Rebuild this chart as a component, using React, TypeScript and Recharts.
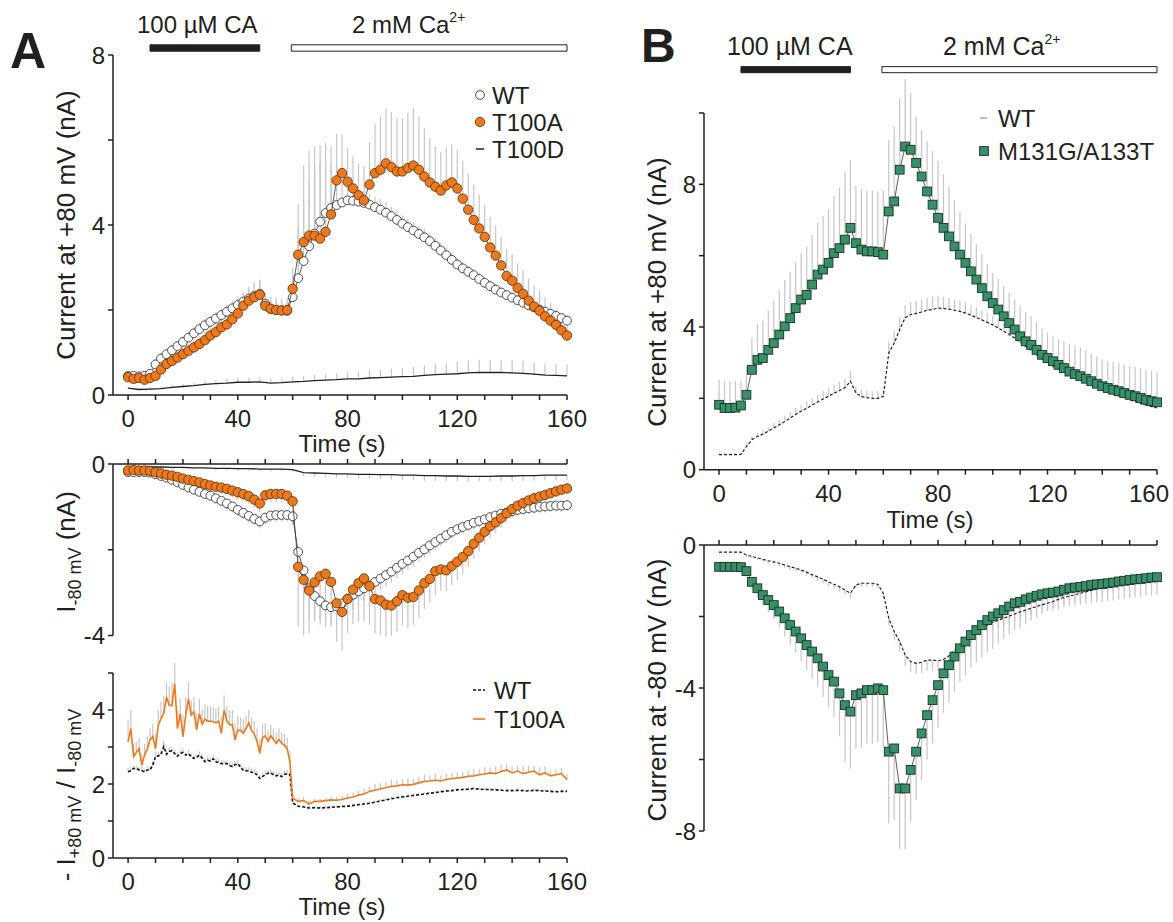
import React from 'react';
import { ComposedChart, Scatter, Line, XAxis, YAxis, ErrorBar, ReferenceArea } from 'recharts';

const FONT = '"Liberation Sans", Arial, Helvetica, sans-serif';
const INK = '#231f20';
const ERR = '#c6c6c6';
const ORANGE = '#ec7a1c';
const GREEN = '#37906a';

// sampling times (s)
const T2 = [
  0, 2, 4, 6, 8, 10, 12, 14, 16, 18,
  20, 22, 24, 26, 28, 30, 32, 34, 36, 38,
  40, 42, 44, 46, 48, 50, 52, 54, 56, 58,
  60, 62, 64, 66, 68, 70, 72, 74, 76, 78,
  80, 82, 84, 86, 88, 90, 92, 94, 96, 98,
  100, 102, 104, 106, 108, 110, 112, 114, 116, 118,
  120, 122, 124, 126, 128, 130, 132, 134, 136, 138,
  140, 142, 144, 146, 148, 150, 152, 154, 156, 158,
  160,
];
const T4 = [
  0, 4, 8, 12, 16, 20, 24, 28, 32, 36,
  40, 44, 48, 52, 56, 60, 64, 68, 72, 76,
  80, 84, 88, 92, 96, 100, 104, 108, 112, 116,
  120, 124, 128, 132, 136, 140, 144, 148, 152, 156,
  160,
];
const T_RATIO = [
  0, 1, 2, 3, 4, 5, 6, 7, 8, 9,
  10, 11, 12, 13, 14, 15, 16, 17, 18, 19,
  20, 21, 22, 23, 24, 25, 26, 27, 28, 29,
  30, 31, 32, 33, 34, 35, 36, 37, 38, 39,
  40, 41, 42, 43, 44, 45, 46, 47, 48, 49,
  50, 51, 52, 53, 54, 55, 56, 57, 58, 59,
  60, 62, 64, 66, 68, 70, 72, 74, 76, 78,
  80, 82, 84, 86, 88, 90, 92, 94, 96, 98,
  100, 102, 104, 106, 108, 110, 112, 114, 116, 118,
  120, 122, 124, 126, 128, 130, 132, 134, 136, 138,
  140, 142, 144, 146, 148, 150, 152, 154, 156, 158,
  160,
];

// application windows (s)
const CA_WINDOW = [8, 48];
const CALCIUM_WINDOW = [59.5, 160];

const X_TICKS = [0, 10, 20, 30, 40, 50, 60, 70, 80, 90, 100, 110, 120, 130, 140, 150, 160];

// ---- panel A, current at +80 mV (nA) ----
const aWtPos = [
  0.45, 0.45, 0.44, 0.45, 0.5, 0.72, 0.86, 0.96, 1.05, 1.15,
  1.25, 1.35, 1.45, 1.55, 1.64, 1.72, 1.8, 1.88, 1.96, 2.04,
  2.12, 2.2, 2.27, 2.33, 2.38, 2.15, 2.02, 2.0, 1.99, 1.98,
  2.3, 2.75, 3.15, 3.5, 3.8, 4.08, 4.28, 4.4, 4.47, 4.53,
  4.58, 4.57, 4.55, 4.52, 4.48, 4.42, 4.36, 4.29, 4.21, 4.12,
  4.03, 3.95, 3.87, 3.79, 3.71, 3.62, 3.51, 3.4, 3.29, 3.18,
  3.07, 2.98, 2.9, 2.82, 2.73, 2.64, 2.56, 2.48, 2.41, 2.35,
  2.29, 2.23, 2.17, 2.11, 2.06, 2.01, 1.96, 1.91, 1.86, 1.81,
  1.75,
];
const aWtPosErr = [
  0.08, 0.08, 0.08, 0.08, 0.1, 0.12, 0.12, 0.12, 0.12, 0.12,
  0.12, 0.14, 0.14, 0.15, 0.15, 0.15, 0.16, 0.16, 0.17, 0.18,
  0.2, 0.22, 0.22, 0.25, 0.3, 0.25, 0.2, 0.2, 0.2, 0.2,
  0.4, 1.2, 1.4, 1.5, 1.5, 1.4, 1.2, 1.0, 0.7, 0.5,
  0.35, 0.3, 0.28, 0.28, 0.25, 0.25, 0.25, 0.25, 0.22, 0.22,
  0.2, 0.2, 0.2, 0.2, 0.2, 0.18, 0.18, 0.18, 0.18, 0.16,
  0.16, 0.16, 0.15, 0.15, 0.15, 0.14, 0.14, 0.14, 0.14, 0.13,
  0.13, 0.13, 0.12, 0.12, 0.12, 0.12, 0.12, 0.12, 0.12, 0.12,
  0.12,
];
const aT100aPos = [
  0.42, 0.38, 0.4, 0.36, 0.4, 0.45, 0.6, 0.73, 0.8, 0.88,
  0.96, 1.04, 1.12, 1.2, 1.29, 1.4, 1.48, 1.59, 1.66, 1.78,
  1.92, 2.1, 2.22, 2.3, 2.36, 2.1, 2.03, 2.0, 1.99, 2.0,
  2.5, 3.3, 3.6, 3.75, 3.75, 3.68, 3.84, 4.25, 5.05, 5.22,
  5.02, 4.86, 4.7, 4.58, 4.95, 5.22, 5.3, 5.45, 5.36, 5.26,
  5.26, 5.34, 5.4, 5.3, 5.14, 5.0, 4.9, 4.81, 4.93, 5.0,
  4.86, 4.62, 4.36, 4.12, 3.92, 3.72, 3.47, 3.28, 3.05, 2.8,
  2.69, 2.52, 2.38, 2.22, 2.08, 1.98, 1.85, 1.75, 1.65, 1.52,
  1.4,
];
const aT100aPosErr = [
  0.1, 0.1, 0.1, 0.1, 0.1, 0.12, 0.15, 0.15, 0.15, 0.15,
  0.16, 0.16, 0.18, 0.18, 0.2, 0.2, 0.22, 0.22, 0.25, 0.25,
  0.28, 0.3, 0.32, 0.35, 0.35, 0.3, 0.28, 0.28, 0.28, 0.28,
  0.5, 1.2, 1.8, 2.0, 2.1, 2.2, 2.1, 1.6, 1.1, 0.9,
  0.8, 0.75, 0.75, 0.8, 1.0, 1.15, 1.25, 1.3, 1.3, 1.25,
  1.25, 1.3, 1.35, 1.25, 1.15, 1.05, 0.95, 0.9, 0.9, 0.9,
  0.9, 0.88, 0.85, 0.82, 0.8, 0.75, 0.72, 0.7, 0.68, 0.65,
  0.62, 0.58, 0.55, 0.52, 0.5, 0.48, 0.45, 0.42, 0.38, 0.35,
  0.32,
];
const aT100dPos = [
  0.16, 0.13, 0.14, 0.15, 0.18, 0.2, 0.22, 0.25, 0.27, 0.28,
  0.3, 0.3, 0.31, 0.28, 0.29, 0.31, 0.32, 0.34, 0.35, 0.36,
  0.38, 0.38, 0.4, 0.41, 0.42, 0.43, 0.44, 0.46, 0.48, 0.49,
  0.5, 0.52, 0.53, 0.53, 0.53, 0.52, 0.51, 0.49, 0.47, 0.46,
  0.45,
];
const aT100dPosErr = [
  0.04, 0.04, 0.05, 0.05, 0.06, 0.06, 0.07, 0.08, 0.08, 0.1,
  0.1, 0.1, 0.1, 0.1, 0.1, 0.12, 0.12, 0.13, 0.14, 0.15,
  0.16, 0.17, 0.18, 0.19, 0.2, 0.21, 0.22, 0.24, 0.25, 0.26,
  0.28, 0.3, 0.3, 0.3, 0.3, 0.3, 0.3, 0.28, 0.28, 0.27,
  0.27,
];

// ---- panel A, current at -80 mV (nA) ----
const aWtNeg = [
  -0.19, -0.19, -0.19, -0.19, -0.2, -0.24, -0.28, -0.32, -0.37, -0.43,
  -0.49, -0.55, -0.6, -0.65, -0.7, -0.74, -0.8, -0.86, -0.92, -0.99,
  -1.07, -1.14, -1.21, -1.28, -1.34, -1.25, -1.2, -1.19, -1.19, -1.19,
  -1.22, -2.05, -2.48, -2.9, -3.08, -3.2, -3.3, -3.34, -3.32, -3.25,
  -3.14, -3.05, -2.97, -2.9, -2.83, -2.75, -2.67, -2.59, -2.51, -2.42,
  -2.33, -2.25, -2.16, -2.07, -1.99, -1.9, -1.82, -1.74, -1.66, -1.58,
  -1.52, -1.47, -1.42, -1.37, -1.33, -1.29, -1.24, -1.2, -1.16, -1.13,
  -1.1, -1.07, -1.05, -1.03, -1.02, -1.0, -0.99, -0.98, -0.97, -0.97,
  -0.96,
];
const aWtNegErr = [
  0.05, 0.05, 0.05, 0.05, 0.05, 0.06, 0.06, 0.07, 0.08, 0.08,
  0.09, 0.1, 0.1, 0.1, 0.11, 0.11, 0.12, 0.12, 0.13, 0.13,
  0.14, 0.14, 0.15, 0.15, 0.16, 0.15, 0.15, 0.15, 0.15, 0.15,
  0.2, 0.6, 0.7, 0.7, 0.6, 0.55, 0.5, 0.45, 0.4, 0.4,
  0.35, 0.35, 0.3, 0.3, 0.3, 0.28, 0.28, 0.26, 0.26, 0.25,
  0.24, 0.23, 0.22, 0.21, 0.2, 0.2, 0.19, 0.18, 0.17, 0.16,
  0.15, 0.15, 0.15, 0.15, 0.15, 0.15, 0.15, 0.15, 0.15, 0.15,
  0.14, 0.14, 0.14, 0.14, 0.14, 0.14, 0.14, 0.14, 0.14, 0.14,
  0.13,
];
const aT100aNeg = [
  -0.15, -0.14, -0.15, -0.15, -0.16, -0.19, -0.22, -0.25, -0.27, -0.3,
  -0.34, -0.37, -0.4, -0.43, -0.47, -0.5, -0.53, -0.55, -0.58, -0.62,
  -0.66, -0.7, -0.75, -0.83, -0.92, -0.73, -0.7, -0.7, -0.7, -0.74,
  -0.87, -2.4, -2.7, -2.95, -2.76, -2.62, -2.56, -2.75, -3.25, -3.45,
  -3.15, -2.93, -2.78, -2.67, -2.85, -3.15, -3.18, -3.28, -3.3, -3.2,
  -3.06, -3.12, -3.1, -2.95, -2.78, -2.68, -2.5, -2.46, -2.48, -2.38,
  -2.28, -2.17, -2.03, -1.86, -1.72, -1.58, -1.45, -1.36, -1.26, -1.15,
  -1.05, -0.97, -0.91, -0.85, -0.8, -0.76, -0.72, -0.68, -0.64, -0.6,
  -0.57,
];
const aT100aNegErr = [
  0.05, 0.05, 0.05, 0.05, 0.05, 0.06, 0.06, 0.07, 0.08, 0.08,
  0.09, 0.1, 0.1, 0.1, 0.11, 0.12, 0.12, 0.13, 0.14, 0.15,
  0.16, 0.17, 0.18, 0.2, 0.2, 0.2, 0.2, 0.2, 0.2, 0.2,
  0.3, 1.4, 1.3, 1.0, 0.9, 1.0, 1.1, 1.0, 0.9, 0.9,
  0.8, 0.8, 0.9, 1.0, 0.9, 0.8, 0.8, 0.75, 0.7, 0.7,
  0.7, 0.7, 0.65, 0.65, 0.6, 0.55, 0.55, 0.5, 0.48, 0.45,
  0.42, 0.4, 0.38, 0.35, 0.32, 0.3, 0.28, 0.26, 0.24, 0.22,
  0.2, 0.2, 0.18, 0.18, 0.16, 0.15, 0.14, 0.13, 0.12, 0.12,
  0.12,
];
const aT100dNeg = [
  -0.06, -0.06, -0.07, -0.07, -0.08, -0.08, -0.09, -0.09, -0.1, -0.1,
  -0.11, -0.11, -0.12, -0.12, -0.12, -0.13, -0.2, -0.21, -0.22, -0.23,
  -0.23, -0.24, -0.24, -0.25, -0.25, -0.26, -0.26, -0.27, -0.27, -0.28,
  -0.28, -0.29, -0.29, -0.29, -0.28, -0.28, -0.27, -0.27, -0.26, -0.26,
  -0.26,
];
const aT100dNegErr = [
  0.03, 0.03, 0.03, 0.03, 0.04, 0.04, 0.04, 0.04, 0.05, 0.05,
  0.05, 0.05, 0.05, 0.05, 0.05, 0.05, 0.08, 0.08, 0.09, 0.09,
  0.1, 0.1, 0.1, 0.1, 0.11, 0.11, 0.11, 0.12, 0.12, 0.12,
  0.12, 0.12, 0.12, 0.12, 0.12, 0.12, 0.12, 0.12, 0.12, 0.12,
  0.12,
];

// ---- panel A, -I(+80 mV) / I(-80 mV) ----
const aT100aRatio = [
  3.14, 3.5, 2.74, 2.85, 2.95, 2.51, 2.78, 2.95, 3.19, 3.28,
  2.95, 3.59, 3.77, 3.9, 4.35, 4.13, 4.12, 4.71, 3.5, 3.9,
  3.28, 3.85, 4.31, 3.86, 3.95, 3.46, 3.9, 3.62, 3.75, 3.7,
  3.7, 3.68, 3.65, 3.7, 3.37, 4.0, 3.7, 3.6, 3.6, 3.19,
  3.45, 3.45, 3.37, 3.5, 3.65, 3.45, 3.35, 3.15, 2.83, 3.25,
  3.3, 3.15, 3.3, 3.2, 3.1, 3.2, 3.1, 3.05, 2.95, 2.59,
  1.62, 1.53, 1.55, 1.46, 1.53, 1.53, 1.55, 1.57, 1.56, 1.58,
  1.62, 1.65, 1.7, 1.73, 1.8, 1.83, 1.87, 1.9, 1.94, 1.95,
  1.98, 1.97, 1.99, 2.03, 2.07, 2.08, 2.1, 2.08, 2.12, 2.14,
  2.16, 2.18, 2.21, 2.22, 2.25, 2.27, 2.3, 2.28, 2.34, 2.38,
  2.3, 2.35, 2.28, 2.32, 2.35, 2.25, 2.3, 2.22, 2.25, 2.28,
  2.12,
];
const aT100aRatioErr = [
  0.6, 0.5, 0.35, 0.3, 0.3, 0.3, 0.3, 0.35, 0.3, 0.35,
  0.4, 0.4, 0.45, 0.5, 0.4, 0.5, 0.6, 0.9, 0.5, 0.4,
  0.6, 0.5, 0.45, 0.4, 0.4, 0.45, 0.4, 0.4, 0.4, 0.4,
  0.4, 0.4, 0.4, 0.4, 0.45, 0.4, 0.4, 0.4, 0.4, 0.45,
  0.4, 0.35, 0.4, 0.35, 0.35, 0.35, 0.35, 0.35, 0.4, 0.35,
  0.35, 0.3, 0.3, 0.3, 0.3, 0.3, 0.3, 0.3, 0.3, 0.3,
  0.1, 0.1, 0.1, 0.08, 0.08, 0.08, 0.08, 0.1, 0.1, 0.1,
  0.12, 0.12, 0.12, 0.15, 0.15, 0.18, 0.15, 0.15, 0.18, 0.15,
  0.15, 0.18, 0.15, 0.15, 0.18, 0.15, 0.18, 0.15, 0.15, 0.15,
  0.15, 0.15, 0.15, 0.18, 0.15, 0.18, 0.15, 0.2, 0.18, 0.15,
  0.18, 0.15, 0.2, 0.18, 0.15, 0.2, 0.18, 0.15, 0.15, 0.15,
  0.15,
];
const aWtRatio = [
  2.33, 2.36, 2.42, 2.42, 2.38, 2.36, 2.33, 2.38, 2.38, 2.51,
  2.74, 2.76, 2.8, 3.01, 2.8, 2.88, 2.9, 2.82, 2.75, 2.82,
  2.85, 2.78, 2.82, 2.74, 2.69, 2.72, 2.78, 2.7, 2.6, 2.64,
  2.62, 2.68, 2.6, 2.58, 2.55, 2.55, 2.55, 2.5, 2.47, 2.52,
  2.55, 2.45, 2.37, 2.36, 2.35, 2.32, 2.3, 2.25, 2.15, 2.2,
  2.25, 2.29, 2.3, 2.25, 2.22, 2.24, 2.2, 2.26, 2.28, 2.25,
  1.49, 1.4, 1.38, 1.35, 1.36, 1.35, 1.36, 1.37, 1.38, 1.39,
  1.4, 1.42, 1.44, 1.46, 1.48, 1.51, 1.54, 1.57, 1.6, 1.63,
  1.65, 1.67, 1.69, 1.71, 1.73, 1.75, 1.77, 1.79, 1.81, 1.82,
  1.84, 1.85, 1.86, 1.88, 1.86, 1.85, 1.85, 1.84, 1.83, 1.82,
  1.82, 1.83, 1.82, 1.81, 1.83, 1.82, 1.81, 1.8, 1.79, 1.8,
  1.8,
];
const aWtRatioErr = [
  0.1, 0.1, 0.08, 0.08, 0.1, 0.1, 0.08, 0.1, 0.1, 0.12,
  0.12, 0.1, 0.12, 0.15, 0.12, 0.12, 0.1, 0.12, 0.1, 0.1,
  0.1, 0.1, 0.1, 0.1, 0.1, 0.1, 0.1, 0.1, 0.1, 0.1,
  0.1, 0.1, 0.1, 0.1, 0.1, 0.1, 0.1, 0.1, 0.1, 0.1,
  0.1, 0.1, 0.1, 0.1, 0.1, 0.1, 0.1, 0.1, 0.1, 0.1,
  0.1, 0.1, 0.1, 0.1, 0.1, 0.1, 0.1, 0.1, 0.1, 0.1,
  0.05, 0.05, 0.05, 0.05, 0.05, 0.05, 0.05, 0.05, 0.05, 0.05,
  0.05, 0.05, 0.05, 0.05, 0.05, 0.05, 0.05, 0.05, 0.05, 0.05,
  0.05, 0.05, 0.05, 0.05, 0.05, 0.05, 0.05, 0.05, 0.05, 0.05,
  0.05, 0.05, 0.05, 0.05, 0.05, 0.05, 0.05, 0.05, 0.05, 0.05,
  0.05, 0.05, 0.05, 0.05, 0.05, 0.05, 0.05, 0.05, 0.05, 0.05,
  0.05,
];

// ---- panel B, current at +80 mV (nA) ----
const bMutPos = [
  1.82, 1.73, 1.73, 1.74, 1.8, 2.1, 2.8, 3.08, 3.13, 3.36,
  3.55, 3.79, 4.02, 4.25, 4.53, 4.77, 4.9, 5.19, 5.47, 5.61,
  5.8, 6.07, 6.21, 6.45, 6.78, 6.35, 6.17, 6.12, 6.12, 6.1,
  6.03, 7.24, 7.52, 8.41, 9.06, 8.97, 8.6, 8.22, 7.8, 7.43,
  7.06, 6.78, 6.54, 6.26, 6.03, 5.8, 5.56, 5.33, 5.09, 4.86,
  4.67, 4.49, 4.3, 4.11, 3.93, 3.74, 3.6, 3.5, 3.36, 3.22,
  3.13, 3.04, 2.94, 2.85, 2.75, 2.68, 2.62, 2.55, 2.48, 2.41,
  2.34, 2.29, 2.24, 2.2, 2.15, 2.1, 2.06, 2.01, 1.96, 1.92,
  1.89,
];
const bMutPosErr = [
  0.7, 0.75, 0.75, 0.75, 0.7, 0.8, 0.9, 1.0, 1.05, 1.1,
  1.2, 1.25, 1.3, 1.3, 1.3, 1.3, 1.35, 1.4, 1.45, 1.5,
  1.5, 1.6, 1.7, 1.9, 1.9, 1.6, 1.7, 1.7, 1.7, 1.7,
  1.8, 2.0, 2.1, 2.0, 1.9, 1.6, 1.3, 1.3, 1.4, 1.5,
  1.6, 1.5, 1.4, 1.3, 1.2, 1.1, 1.05, 1.0, 0.95, 0.9,
  0.85, 0.85, 0.85, 0.85, 0.84, 0.84, 0.82, 0.8, 0.78, 0.75,
  0.7, 0.7, 0.72, 0.75, 0.78, 0.8, 0.8, 0.8, 0.78, 0.76,
  0.75, 0.76, 0.78, 0.8, 0.8, 0.8, 0.82, 0.84, 0.85, 0.85,
  0.85,
];
const bWtPos = [
  0.42, 0.42, 0.42, 0.42, 0.43, 0.65, 0.84, 0.93, 1.0, 1.08,
  1.17, 1.26, 1.35, 1.45, 1.55, 1.64, 1.72, 1.81, 1.9, 1.98,
  2.06, 2.14, 2.22, 2.3, 2.48, 2.15, 2.05, 2.02, 2.0, 2.0,
  2.05, 3.27, 3.55, 3.93, 4.26, 4.35, 4.38, 4.42, 4.47, 4.49,
  4.53, 4.52, 4.5, 4.47, 4.44, 4.39, 4.33, 4.27, 4.2, 4.13,
  4.06, 3.97, 3.88, 3.79, 3.69, 3.58, 3.46, 3.34, 3.22, 3.1,
  2.98, 2.9, 2.82, 2.74, 2.66, 2.59, 2.52, 2.45, 2.38, 2.31,
  2.25, 2.19, 2.13, 2.07, 2.02, 1.96, 1.91, 1.86, 1.81, 1.77,
  1.73,
];
const bWtPosErr = [
  0.05, 0.05, 0.05, 0.05, 0.05, 0.08, 0.1, 0.1, 0.12, 0.12,
  0.14, 0.15, 0.16, 0.17, 0.18, 0.18, 0.2, 0.2, 0.2, 0.22,
  0.22, 0.24, 0.25, 0.26, 0.3, 0.2, 0.2, 0.2, 0.2, 0.2,
  0.2, 0.3, 0.35, 0.35, 0.35, 0.35, 0.35, 0.35, 0.35, 0.35,
  0.35, 0.33, 0.32, 0.3, 0.3, 0.3, 0.28, 0.28, 0.27, 0.26,
  0.25, 0.25, 0.24, 0.23, 0.22, 0.2, 0.2, 0.18, 0.18, 0.16,
  0.15, 0.15, 0.15, 0.15, 0.15, 0.15, 0.15, 0.15, 0.15, 0.15,
  0.12, 0.12, 0.12, 0.12, 0.12, 0.12, 0.12, 0.12, 0.12, 0.12,
  0.1,
];

// ---- panel B, current at -80 mV (nA) ----
const bMutNeg = [
  -0.61, -0.61, -0.61, -0.61, -0.62, -0.73, -1.03, -1.21, -1.4, -1.54,
  -1.68, -1.86, -2.05, -2.24, -2.42, -2.61, -2.8, -2.98, -3.17, -3.4,
  -3.64, -3.82, -4.15, -4.48, -4.66, -4.2, -4.15, -4.06, -4.06, -4.01,
  -4.06, -5.78, -5.69, -6.81, -6.81, -6.29, -5.78, -5.27, -4.76, -4.34,
  -3.92, -3.59, -3.36, -3.12, -2.89, -2.7, -2.52, -2.38, -2.24, -2.1,
  -2.0, -1.91, -1.82, -1.72, -1.63, -1.59, -1.52, -1.47, -1.42, -1.38,
  -1.35, -1.33, -1.3, -1.25, -1.21, -1.19, -1.17, -1.15, -1.12, -1.1,
  -1.09, -1.07, -1.05, -1.02, -1.0, -0.98, -0.96, -0.95, -0.93, -0.91,
  -0.9,
];
const bMutNegErr = [
  0.08, 0.08, 0.08, 0.08, 0.1, 0.15, 0.2, 0.25, 0.3, 0.35,
  0.4, 0.45, 0.5, 0.55, 0.6, 0.65, 0.7, 0.75, 0.8, 0.85,
  0.9, 1.0, 1.2, 1.6, 1.6, 1.5, 1.5, 1.5, 1.5, 1.5,
  1.6, 2.0, 2.0, 1.7, 1.7, 1.45, 1.35, 1.3, 1.25, 1.2,
  1.2, 1.1, 1.05, 1.0, 0.95, 0.95, 0.9, 0.9, 0.9, 0.9,
  0.9, 0.85, 0.8, 0.78, 0.75, 0.75, 0.7, 0.65, 0.6, 0.55,
  0.5, 0.5, 0.5, 0.5, 0.5, 0.5, 0.5, 0.5, 0.5, 0.5,
  0.5, 0.5, 0.5, 0.5, 0.5, 0.5, 0.5, 0.5, 0.5, 0.5,
  0.5,
];
const bWtNeg = [
  -0.2, -0.2, -0.2, -0.2, -0.2, -0.28, -0.32, -0.36, -0.4, -0.44,
  -0.47, -0.51, -0.56, -0.61, -0.65, -0.7, -0.76, -0.83, -0.89, -0.96,
  -1.03, -1.1, -1.17, -1.26, -1.35, -1.12, -1.07, -1.07, -1.07, -1.1,
  -1.35, -2.05, -2.42, -2.7, -3.08, -3.26, -3.31, -3.28, -3.22, -3.22,
  -3.24, -3.2, -3.1, -2.95, -2.8, -2.66, -2.52, -2.42, -2.33, -2.24,
  -2.16, -2.1, -2.05, -1.99, -1.93, -1.87, -1.82, -1.77, -1.72, -1.67,
  -1.63, -1.58, -1.52, -1.47, -1.43, -1.39, -1.35, -1.31, -1.27, -1.23,
  -1.2, -1.17, -1.13, -1.1, -1.07, -1.04, -1.02, -0.99, -0.97, -0.95,
  -0.93,
];
const bWtNegErr = [
  0.03, 0.03, 0.03, 0.03, 0.03, 0.05, 0.05, 0.06, 0.06, 0.07,
  0.07, 0.08, 0.08, 0.09, 0.09, 0.1, 0.1, 0.1, 0.11, 0.11,
  0.12, 0.12, 0.13, 0.13, 0.14, 0.1, 0.1, 0.1, 0.1, 0.1,
  0.15, 0.2, 0.25, 0.3, 0.3, 0.3, 0.3, 0.3, 0.3, 0.3,
  0.28, 0.28, 0.26, 0.26, 0.25, 0.25, 0.24, 0.24, 0.23, 0.22,
  0.22, 0.2, 0.2, 0.2, 0.2, 0.2, 0.2, 0.2, 0.2, 0.2,
  0.2, 0.2, 0.2, 0.2, 0.2, 0.2, 0.2, 0.2, 0.2, 0.2,
  0.15, 0.15, 0.15, 0.15, 0.15, 0.15, 0.15, 0.15, 0.15, 0.15,
  0.15,
];

type Pt = { t: number; v: number; e: number };
const toPts = (time: number[], vals: number[], errs: number[]): Pt[] =>
  time.map((t, i) => ({ t, v: vals[i], e: errs[i] }));

const errUp = (d: any) => [0, d.e ?? d.payload?.e ?? 0];
const errDown = (d: any) => [d.e ?? d.payload?.e ?? 0, 0];

// gray one-sided error bars, drawn behind everything
const errLayer = (data: Pt[], up: boolean, key: string) => (
  <Scatter key={key} data={data} dataKey="v" shape={() => <g />} isAnimationActive={false}>
    <ErrorBar dataKey={up ? errUp : errDown} direction="y" width={0} stroke={ERR} strokeWidth={1.2} />
  </Scatter>
);

const openCircle = (p: any) => <circle cx={p.cx} cy={p.cy} r={4.4} fill="#fff" stroke="#3a3a3a" strokeWidth={0.9} />;
const orangeCircle = (p: any) => <circle cx={p.cx} cy={p.cy} r={4.7} fill={ORANGE} stroke="#5a2c08" strokeWidth={0.8} />;
const greenSquare = (p: any) => (
  <rect x={p.cx - 4.4} y={p.cy - 4.4} width={8.8} height={8.8} fill={GREEN} stroke="#1b3226" strokeWidth={0.9} />
);

const Y_AXIS_W = 60;
const tickStyle = { fontSize: 24, fill: INK, fontFamily: FONT };

type PanelSpec = {
  plotLeft: number;
  plotTop: number;
  plotW: number;
  plotH: number;
  padTop: number;
  xOnTop: boolean;
  lastTickShift: number;
  yDomain: [number, number];
  yTicks: number[];
  yLabelled: number[];
};

// x tick labels only every 40 s; the last one may be nudged to stay on the page
const makeXTick = (spec: PanelSpec) => (props: any) => {
  const { x, y, payload } = props;
  const v = payload.value;
  if (spec.xOnTop || v % 40 !== 0) return <g />;
  return (
    <text x={x + (v === 160 ? spec.lastTickShift : 0)} y={y} dy="0.71em" textAnchor="middle" fontSize={24} fill={INK} fontFamily={FONT}>
      {v}
    </text>
  );
};

function Panel({ spec, children }: { spec: PanelSpec; children: React.ReactNode }) {
  const xH = spec.xOnTop ? 8 : 45;
  const width = Y_AXIS_W + spec.plotW + 30;
  const height = spec.padTop + spec.plotH + (spec.xOnTop ? 20 : xH);
  const margin = spec.xOnTop
    ? { top: spec.padTop - xH, right: 30, bottom: 20, left: 0 }
    : { top: spec.padTop, right: 30, bottom: 0, left: 0 };
  return (
    <div style={{ position: 'absolute', left: spec.plotLeft - Y_AXIS_W, top: spec.plotTop - spec.padTop, width, height }}>
      <ComposedChart width={width} height={height} margin={margin}>
        <XAxis
          type="number"
          dataKey="t"
          domain={[-5.5, 160]}
          ticks={X_TICKS}
          interval={0}
          orientation={spec.xOnTop ? 'top' : 'bottom'}
          height={xH}
          stroke={INK}
          strokeWidth={1.5}
          tickSize={5}
          tickMargin={10}
          tick={makeXTick(spec)}
        />
        <YAxis
          type="number"
          dataKey="v"
          domain={spec.yDomain}
          ticks={spec.yTicks}
          allowDataOverflow
          interval={0}
          width={Y_AXIS_W}
          stroke={INK}
          strokeWidth={1.5}
          tickSize={5}
          tickMargin={3}
          tick={tickStyle}
          tickFormatter={(v: number) => (spec.yLabelled.includes(v) ? String(v) : '')}
        />
        {children}
      </ComposedChart>
    </div>
  );
}

const A_TOP: PanelSpec = { plotLeft: 113, plotTop: 55, plotW: 454, plotH: 340, padTop: 15, xOnTop: false, lastTickShift: 0, yDomain: [0, 8], yTicks: [0, 2, 4, 6, 8], yLabelled: [0, 4, 8] };
const A_MID: PanelSpec = { plotLeft: 113, plotTop: 463.5, plotW: 454, plotH: 171.5, padTop: 15, xOnTop: true, lastTickShift: 0, yDomain: [-4, 0], yTicks: [-4, -2, 0], yLabelled: [-4, 0] };
const A_BOT: PanelSpec = { plotLeft: 113, plotTop: 673.3, plotW: 454, plotH: 185, padTop: 10, xOnTop: false, lastTickShift: 0, yDomain: [0, 5], yTicks: [0, 1, 2, 3, 4, 5], yLabelled: [0, 2, 4] };
const B_TOP: PanelSpec = { plotLeft: 704, plotTop: 113.3, plotW: 453, plotH: 356.7, padTop: 50, xOnTop: false, lastTickShift: -8, yDomain: [0, 10], yTicks: [0, 2, 4, 6, 8, 10], yLabelled: [0, 4, 8] };
const B_BOT: PanelSpec = { plotLeft: 704, plotTop: 545, plotW: 453, plotH: 286, padTop: 15, xOnTop: true, lastTickShift: 0, yDomain: [-8, 0], yTicks: [-8, -6, -4, -2, 0], yLabelled: [-8, -4, 0] };

const windowBars = (lo: number, hi: number) => [
  <ReferenceArea key="ca" x1={CA_WINDOW[0]} x2={CA_WINDOW[1]} y1={lo} y2={hi} ifOverflow="visible" fill={INK} fillOpacity={1} stroke={INK} strokeWidth={1} />,
  <ReferenceArea key="cal" x1={CALCIUM_WINDOW[0]} x2={CALCIUM_WINDOW[1]} y1={lo} y2={hi} ifOverflow="visible" fill="#fff" fillOpacity={1} stroke={INK} strokeWidth={1} />,
];

export default function App() {
  const aWtP = toPts(T2, aWtPos, aWtPosErr);
  const aT100aP = toPts(T2, aT100aPos, aT100aPosErr);
  const aT100dP = toPts(T4, aT100dPos, aT100dPosErr);
  const aWtN = toPts(T2, aWtNeg, aWtNegErr);
  const aT100aN = toPts(T2, aT100aNeg, aT100aNegErr);
  const aT100dN = toPts(T4, aT100dNeg, aT100dNegErr);
  const aWtR = toPts(T_RATIO, aWtRatio, aWtRatioErr);
  const aT100aR = toPts(T_RATIO, aT100aRatio, aT100aRatioErr);
  const bMutP = toPts(T2, bMutPos, bMutPosErr);
  const bWtP = toPts(T2, bWtPos, bWtPosErr);
  const bMutN = toPts(T2, bMutNeg, bMutNegErr);
  const bWtN = toPts(T2, bWtNeg, bWtNegErr);

  const joint = { stroke: '#333', strokeWidth: 0.8 };

  return (
    <div style={{ position: 'absolute', left: 0, top: 0, width: 1173, height: 922, background: '#fff', fontFamily: FONT }}>
      <Panel spec={A_TOP}>
        {windowBars(8.09, 8.24)}
        {errLayer(aT100dP, true, 'e1')}
        {errLayer(aWtP, true, 'e2')}
        {errLayer(aT100aP, true, 'e3')}
        <Line data={aT100dP} dataKey="v" type="linear" dot={false} activeDot={false} stroke="#222" strokeWidth={1.3} isAnimationActive={false} />
        <Scatter data={aWtP} dataKey="v" shape={openCircle} line={joint} isAnimationActive={false} />
        <Scatter data={aT100aP} dataKey="v" shape={orangeCircle} line={joint} isAnimationActive={false} />
      </Panel>

      <Panel spec={A_MID}>
        {errLayer(aT100dN, false, 'e1')}
        {errLayer(aWtN, false, 'e2')}
        {errLayer(aT100aN, false, 'e3')}
        <Line data={aT100dN} dataKey="v" type="linear" dot={false} activeDot={false} stroke="#222" strokeWidth={1.3} isAnimationActive={false} />
        <Scatter data={aWtN} dataKey="v" shape={openCircle} line={joint} isAnimationActive={false} />
        <Scatter data={aT100aN} dataKey="v" shape={orangeCircle} line={joint} isAnimationActive={false} />
      </Panel>

      <Panel spec={A_BOT}>
        {errLayer(aWtR, true, 'e1')}
        {errLayer(aT100aR, true, 'e2')}
        <Line data={aWtR} dataKey="v" type="linear" dot={false} activeDot={false} stroke="#111" strokeWidth={1.6} strokeDasharray="3 2" isAnimationActive={false} />
        <Line data={aT100aR} dataKey="v" type="linear" dot={false} activeDot={false} stroke={ORANGE} strokeWidth={1.6} isAnimationActive={false} />
      </Panel>

      <Panel spec={B_TOP}>
        {windowBars(11.13, 11.3)}
        {errLayer(bWtP, true, 'e1')}
        {errLayer(bMutP, true, 'e2')}
        <Line data={bWtP} dataKey="v" type="linear" dot={false} activeDot={false} stroke="#222" strokeWidth={1.2} strokeDasharray="3 2" isAnimationActive={false} />
        <Scatter data={bMutP} dataKey="v" shape={greenSquare} line={joint} isAnimationActive={false} />
      </Panel>

      <Panel spec={B_BOT}>
        {errLayer(bWtN, false, 'e1')}
        {errLayer(bMutN, false, 'e2')}
        <Line data={bWtN} dataKey="v" type="linear" dot={false} activeDot={false} stroke="#222" strokeWidth={1.2} strokeDasharray="3 2" isAnimationActive={false} />
        <Scatter data={bMutN} dataKey="v" shape={greenSquare} line={joint} isAnimationActive={false} />
      </Panel>

      {/* titles, labels and legends */}
      <svg width={1173} height={922} style={{ position: 'absolute', left: 0, top: 0, pointerEvents: 'none' }} fontFamily={FONT} fill={INK}>
        <text x={10} y={68} fontSize={50} fontWeight="bold">A</text>
        <text x={641} y={62} fontSize={48} fontWeight="bold">B</text>

        <text x={137} y={33} fontSize={24}>100 µM CA</text>
        <text x={352} y={33} fontSize={24}>2 mM Ca<tspan fontSize={14} dy={-11}>2+</tspan></text>
        <text x={727} y={55} fontSize={25}>100 µM CA</text>
        <text x={943} y={55} fontSize={25}>2 mM Ca<tspan fontSize={14} dy={-11}>2+</tspan></text>

        <text transform="rotate(-90 75 225)" x={75} y={225} fontSize={26} textAnchor="middle">Current at +80 mV (nA)</text>
        <text transform="rotate(-90 75 552)" x={75} y={552} fontSize={26} textAnchor="middle">
          I<tspan fontSize={18} dy={6}>-80 mV</tspan><tspan dy={-6}> (nA)</tspan>
        </text>
        <text transform="rotate(-90 75 795)" x={75} y={795} fontSize={26} textAnchor="middle">
          - I<tspan fontSize={18} dy={6}>+80 mV</tspan><tspan dy={-6}> / I</tspan><tspan fontSize={18} dy={6}>-80 mV</tspan>
        </text>
        <text transform="rotate(-90 666 292)" x={666} y={292} fontSize={26} textAnchor="middle">Current at +80 mV (nA)</text>
        <text transform="rotate(-90 666 690)" x={666} y={690} fontSize={26} textAnchor="middle">Current at -80 mV (nA)</text>

        <text x={342} y={452} fontSize={24} textAnchor="middle">Time (s)</text>
        <text x={342} y={915} fontSize={24} textAnchor="middle">Time (s)</text>
        <text x={930} y={528} fontSize={24} textAnchor="middle">Time (s)</text>

        {/* legend A top */}
        <circle cx={480} cy={95} r={4.4} fill="#fff" stroke="#3a3a3a" strokeWidth={0.9} />
        <text x={492} y={104} fontSize={24}>WT</text>
        <circle cx={480} cy={122} r={4.7} fill={ORANGE} stroke="#5a2c08" strokeWidth={0.8} />
        <text x={492} y={131} fontSize={24}>T100A</text>
        <line x1={476} y1={149} x2={484} y2={149} stroke="#222" strokeWidth={1.5} />
        <text x={492} y={158} fontSize={24}>T100D</text>

        {/* legend A bottom */}
        <line x1={473} y1={690} x2={485} y2={690} stroke="#111" strokeWidth={1.6} strokeDasharray="3 2" />
        <text x={494} y={699} fontSize={24}>WT</text>
        <line x1={473} y1={719} x2={485} y2={719} stroke={ORANGE} strokeWidth={1.6} />
        <text x={494} y={728} fontSize={24}>T100A</text>

        {/* legend B */}
        <line x1={980} y1={118} x2={987} y2={118} stroke="#777" strokeWidth={1} />
        <text x={998} y={127} fontSize={24}>WT</text>
        <rect x={979.6} y={146.6} width={8.8} height={8.8} fill={GREEN} stroke="#1b3226" strokeWidth={0.9} />
        <text x={998} y={160} fontSize={24}>M131G/A133T</text>
      </svg>
    </div>
  );
}
